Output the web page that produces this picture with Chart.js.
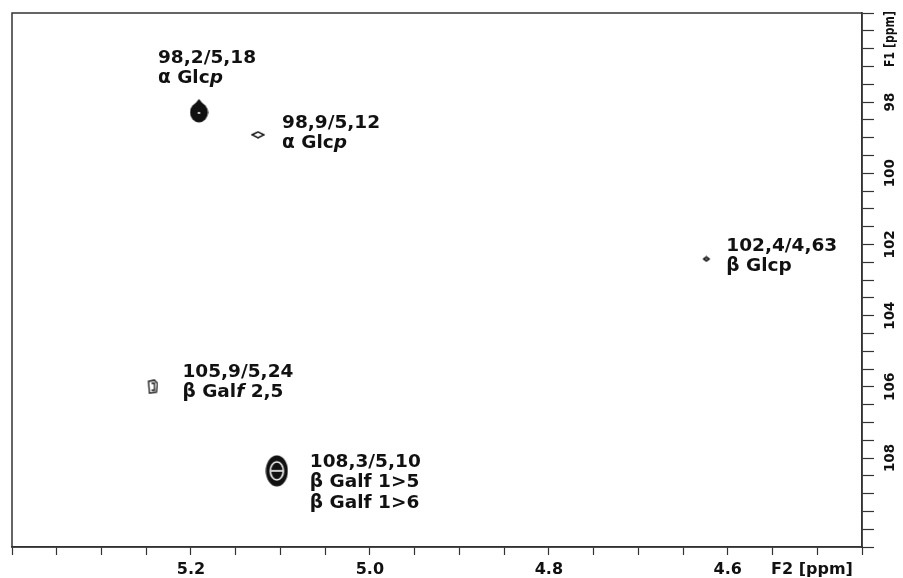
<!DOCTYPE html>
<html>
<head>
<meta charset="utf-8">
<script src="https://cdn.jsdelivr.net/npm/chart.js@4/dist/chart.umd.min.js"></script>
<style>
  html, body { margin: 0; padding: 0; background: #fff; }
  #wrap { width: 903px; height: 578px; }
</style>
</head>
<body>
<div id="wrap"><canvas id="hsqc"></canvas></div>
<script>
// cross peaks: F2 (1H, ppm) and F1 (13C, ppm)
const peakF2 = [5.191, 5.125, 4.624, 5.243, 5.104];
const peakF1 = [98.25, 98.92, 102.41, 106.0, 108.36];
// annotation text, *x* = italic
const peakLabels = [
    ['98,2/5,18', 'α Glc*p*'],
    ['98,9/5,12', 'α Glc*p*'],
    ['102,4/4,63', 'β Glcp'],
    ['105,9/5,24', 'β Gal*f* 2,5'],
    ['108,3/5,10', 'β Galf 1>5', 'β Galf 1>6']
];
const f2Labels = [5.2, 5.0, 4.8, 4.6];
const f1Labels = [98, 100, 102, 104, 106, 108];

// where each annotation sits relative to its peak (px)
const labelOffsets = [[-41, -53], [24, -12], [20, -13], [30, -15], [33, -9]];

const INK = '#111';
const FONT = 'DejaVu Sans';

function shape(w, h, draw) {
    const c = document.createElement('canvas');
    c.width = w; c.height = h;
    const g = c.getContext('2d');
    g.fillStyle = INK; g.strokeStyle = INK;
    draw(g, w, h);
    return c;
}
// contour-like blobs for each peak
const peakShapes = [
    shape(19, 24, (g, w, h) => {
        g.beginPath();
        g.ellipse(w / 2, h / 2 + 1.5, w / 2 - 0.5, h / 2 - 2, 0, 0, Math.PI * 2);
        g.fill();
        g.beginPath();
        g.moveTo(w / 2, 0); g.lineTo(w - 3, 8); g.lineTo(3, 8); g.closePath();
        g.fill();
        g.fillStyle = '#fff';
        g.fillRect(w / 2 - 1, h / 2 + 1, 2, 2);
    }),
    shape(14, 8, (g, w, h) => {
        g.lineWidth = 1.4;
        g.beginPath();
        g.moveTo(1, h / 2); g.lineTo(w / 2, 1); g.lineTo(w - 1, h / 2); g.lineTo(w / 2, h - 1); g.closePath();
        g.stroke();
    }),
    shape(9, 7, (g, w, h) => {
        g.beginPath();
        g.moveTo(0.5, h / 2); g.lineTo(w / 2, 0.5); g.lineTo(w - 0.5, h / 2); g.lineTo(w / 2, h - 0.5); g.closePath();
        g.fill();
        g.fillStyle = '#888';
        g.fillRect(w / 2 - 1, h / 2 - 1, 2, 2);
    }),
    shape(12, 15, (g, w, h) => {
        g.lineWidth = 1.3;
        g.beginPath();
        g.moveTo(2, 2); g.lineTo(w - 4, 1); g.lineTo(w - 1, 4); g.lineTo(w - 2, h - 2); g.lineTo(3, h - 1); g.closePath();
        g.stroke();
        g.beginPath();
        g.moveTo(5, 4); g.lineTo(w - 4, 4); g.lineTo(w - 4, h - 4); g.lineTo(5, h - 4);
        g.stroke();
    }),
    shape(23, 32, (g, w, h) => {
        g.beginPath();
        g.ellipse(w / 2, h / 2, w / 2 - 0.5, h / 2 - 0.5, 0, 0, Math.PI * 2);
        g.fill();
        g.strokeStyle = '#fff';
        g.lineWidth = 1.6;
        g.beginPath();
        g.ellipse(w / 2, h / 2, w / 2 - 5, h / 2 - 7, 0, 0, Math.PI * 2);
        g.stroke();
        g.beginPath();
        g.moveTo(6, h / 2); g.lineTo(w - 6, h / 2);
        g.stroke();
    })
];

function drawRich(ctx, line, x, y, size) {
    const parts = line.split('*');
    let cx = x;
    parts.forEach((p, i) => {
        if (!p) return;
        ctx.font = (i % 2 ? 'italic ' : '') + 'bold ' + size + 'px ' + FONT;
        ctx.fillText(p, cx, y);
        cx += ctx.measureText(p).width;
    });
}

const decorations = {
    id: 'decorations',
    afterDraw(chart) {
        const ctx = chart.ctx;
        const a = chart.chartArea;
        const xs = chart.scales.x, ys = chart.scales.y;
        ctx.save();
        // frame
        ctx.strokeStyle = '#333';
        ctx.lineWidth = 1.5;
        ctx.strokeRect(a.left, a.top, a.right - a.left, a.bottom - a.top);

        // rotated F1 tick labels
        ctx.fillStyle = INK;
        ctx.textAlign = 'center';
        ctx.textBaseline = 'middle';
        ctx.font = 'bold 13.5px ' + FONT;
        f1Labels.forEach(v => {
            ctx.save();
            ctx.translate(890, ys.getPixelForValue(v));
            ctx.rotate(-Math.PI / 2);
            ctx.fillText(String(v), 0, 0);
            ctx.restore();
        });
        ctx.save();
        ctx.translate(890, 39);
        ctx.rotate(-Math.PI / 2);
        ctx.fillText('F1 [ppm]', 0, 0, 56);
        ctx.restore();

        ctx.font = 'bold 16px ' + FONT;
        ctx.fillText('F2 [ppm]', 812, 570);

        // peak annotations
        ctx.textAlign = 'left';
        peakLabels.forEach((lines, i) => {
            const px = xs.getPixelForValue(peakF2[i]) + labelOffsets[i][0];
            const py = ys.getPixelForValue(peakF1[i]) + labelOffsets[i][1];
            lines.forEach((ln, k) => drawRich(ctx, ln, px, py + k * 20.5, 18.5));
        });
        ctx.restore();
    }
};

const isLabel = (v, list) => list.some(l => Math.abs(l - v) < 1e-6);

new Chart(document.getElementById('hsqc'), {
    type: 'scatter',
    data: {
        datasets: [{
            data: peakF2.map((x, i) => ({x: x, y: peakF1[i]})),
            pointStyle: peakShapes,
            pointRadius: 10,
            pointHoverRadius: 10
        }]
    },
    options: {
        responsive: true,
        maintainAspectRatio: false,
        animation: false,
        events: [],
        layout: { padding: { left: 12, top: 13, right: 0, bottom: 0 } },
        plugins: { legend: { display: false }, tooltip: { enabled: false } },
        scales: {
            x: {
                type: 'linear',
                position: 'bottom',
                reverse: true,
                min: 4.45,
                max: 5.40,
                afterFit: s => { s.height = 31; },
                border: { color: '#333', width: 1.5 },
                grid: { drawOnChartArea: false, tickLength: 8, tickColor: '#333', tickWidth: 1.2 },
                ticks: {
                    stepSize: 0.05,
                    autoSkip: false,
                    maxRotation: 0,
                    padding: 5,
                    color: INK,
                    font: { family: FONT, size: 16, weight: 'bold' },
                    callback: v => isLabel(v, f2Labels) ? v.toFixed(1) : ''
                }
            },
            y: {
                type: 'linear',
                position: 'right',
                reverse: true,
                min: 95.5,
                max: 110.5,
                afterFit: s => { s.width = 41; },
                border: { color: '#333', width: 1.5 },
                grid: { drawOnChartArea: false, tickLength: 12, tickColor: '#333', tickWidth: 1.2 },
                ticks: {
                    stepSize: 0.5,
                    autoSkip: false,
                    callback: () => ''
                }
            }
        }
    },
    plugins: [decorations]
});
</script>
</body>
</html>
